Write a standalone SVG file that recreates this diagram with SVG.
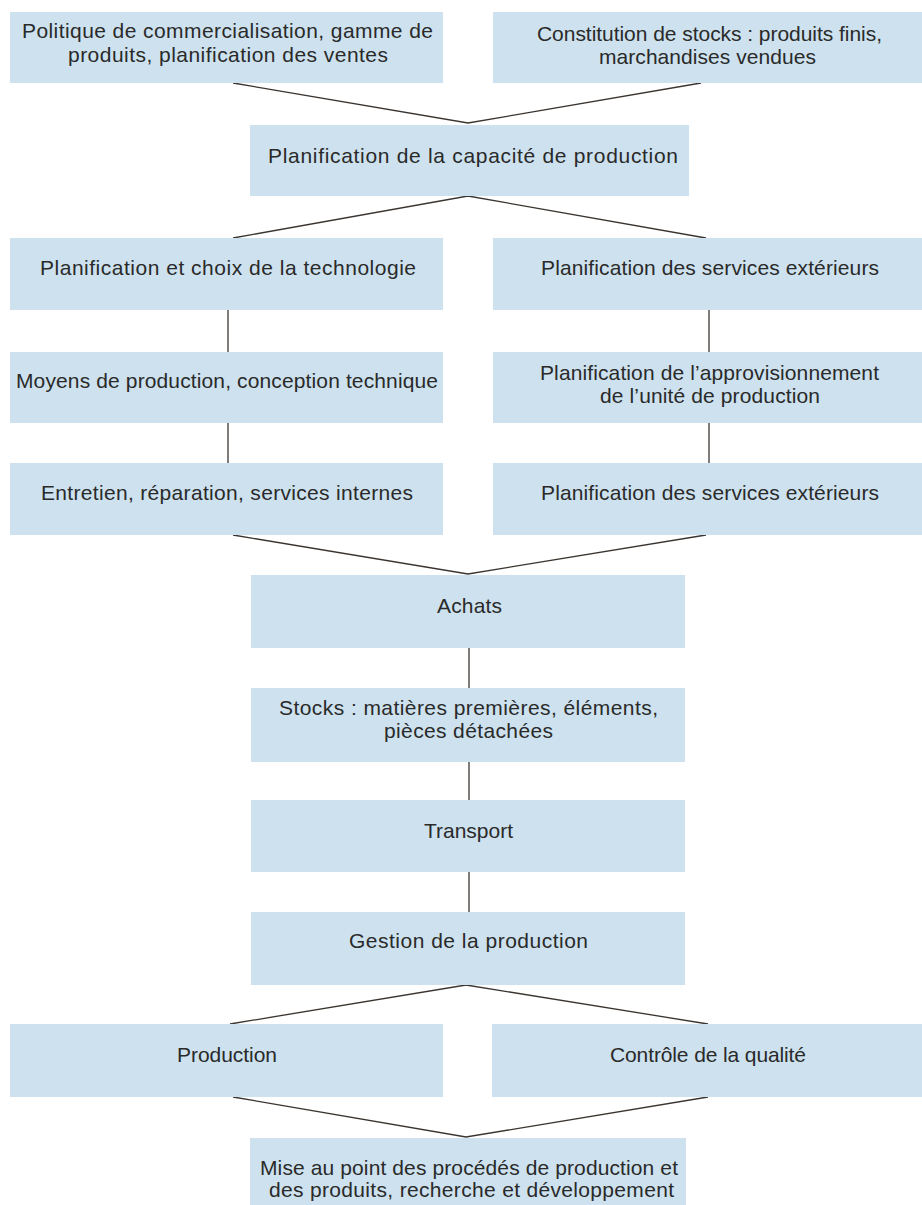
<svg xmlns="http://www.w3.org/2000/svg" width="922" height="1205" viewBox="0 0 922 1205">
<style>
.box{fill:#cde2ee}
.t{font-family:"Liberation Sans",Arial,sans-serif;font-size:21px;fill:#2a2a2a;text-anchor:start}
.c{stroke:#3a3530;stroke-width:1.3;fill:none}
</style>
<rect width="922" height="1205" fill="#ffffff"/>
<g id="connectors">
<polyline class="c" points="233,83 468,123 701,83"/>
<polyline class="c" points="233,238 468,196 706,238"/>
<line class="c" x1="228" y1="310" x2="228" y2="352"/>
<line class="c" x1="228" y1="423" x2="228" y2="463"/>
<line class="c" x1="709" y1="310" x2="709" y2="352"/>
<line class="c" x1="709" y1="423" x2="709" y2="463"/>
<polyline class="c" points="233,535 468,574 706,535"/>
<line class="c" x1="469" y1="648" x2="469" y2="688"/>
<line class="c" x1="469" y1="762" x2="469" y2="800"/>
<line class="c" x1="469" y1="872" x2="469" y2="912"/>
<polyline class="c" points="230,1024 466,985 708,1024"/>
<polyline class="c" points="233,1097 466,1137 708,1097"/>
</g>
<g id="n1"><rect class="box" x="10" y="12" width="433" height="71"/>
<text class="t" x="22" y="38" textLength="411" lengthAdjust="spacing">Politique de commercialisation, gamme de</text>
<text class="t" x="68" y="62" textLength="320" lengthAdjust="spacing">produits, planification des ventes</text></g>
<g id="n2"><rect class="box" x="493" y="12" width="429" height="71"/>
<text class="t" x="537" y="41" textLength="345" lengthAdjust="spacing">Constitution de stocks : produits finis,</text>
<text class="t" x="599" y="64" textLength="217" lengthAdjust="spacing">marchandises vendues</text></g>
<g id="n3"><rect class="box" x="250" y="125" width="439" height="71"/>
<text class="t" x="268" y="163" textLength="410" lengthAdjust="spacing">Planification de la capacité de production</text></g>
<g id="n4"><rect class="box" x="10" y="238" width="433" height="72"/>
<text class="t" x="40" y="275" textLength="376" lengthAdjust="spacing">Planification et choix de la technologie</text></g>
<g id="n5"><rect class="box" x="493" y="238" width="429" height="72"/>
<text class="t" x="541" y="275" textLength="338" lengthAdjust="spacing">Planification des services extérieurs</text></g>
<g id="n6"><rect class="box" x="10" y="352" width="433" height="71"/>
<text class="t" x="16" y="388" textLength="422" lengthAdjust="spacing">Moyens de production, conception technique</text></g>
<g id="n7"><rect class="box" x="493" y="352" width="429" height="71"/>
<text class="t" x="540" y="380" textLength="339" lengthAdjust="spacing">Planification de l’approvisionnement</text>
<text class="t" x="600" y="403" textLength="220" lengthAdjust="spacing">de l’unité de production</text></g>
<g id="n8"><rect class="box" x="10" y="463" width="433" height="72"/>
<text class="t" x="41" y="500" textLength="372" lengthAdjust="spacing">Entretien, réparation, services internes</text></g>
<g id="n9"><rect class="box" x="493" y="463" width="429" height="72"/>
<text class="t" x="541" y="500" textLength="338" lengthAdjust="spacing">Planification des services extérieurs</text></g>
<g id="n10"><rect class="box" x="251" y="575" width="434" height="73"/>
<text class="t" x="437" y="613" textLength="65" lengthAdjust="spacing">Achats</text></g>
<g id="n11"><rect class="box" x="251" y="688" width="434" height="74"/>
<text class="t" x="279" y="715" textLength="379" lengthAdjust="spacing">Stocks : matières premières, éléments,</text>
<text class="t" x="384" y="738" textLength="169" lengthAdjust="spacing">pièces détachées</text></g>
<g id="n12"><rect class="box" x="251" y="800" width="434" height="72"/>
<text class="t" x="424" y="838" textLength="89" lengthAdjust="spacing">Transport</text></g>
<g id="n13"><rect class="box" x="251" y="912" width="434" height="73"/>
<text class="t" x="349" y="948" textLength="239" lengthAdjust="spacing">Gestion de la production</text></g>
<g id="n14"><rect class="box" x="10" y="1024" width="433" height="73"/>
<text class="t" x="177" y="1062" textLength="100" lengthAdjust="spacing">Production</text></g>
<g id="n15"><rect class="box" x="492" y="1024" width="430" height="73"/>
<text class="t" x="610" y="1062" textLength="196" lengthAdjust="spacing">Contrôle de la qualité</text></g>
<g id="n16"><rect class="box" x="250" y="1138" width="436" height="67"/>
<text class="t" x="260" y="1175" textLength="418" lengthAdjust="spacing">Mise au point des procédés de production et</text>
<text class="t" x="269" y="1197" textLength="405" lengthAdjust="spacing">des produits, recherche et développement</text></g>
</svg>
